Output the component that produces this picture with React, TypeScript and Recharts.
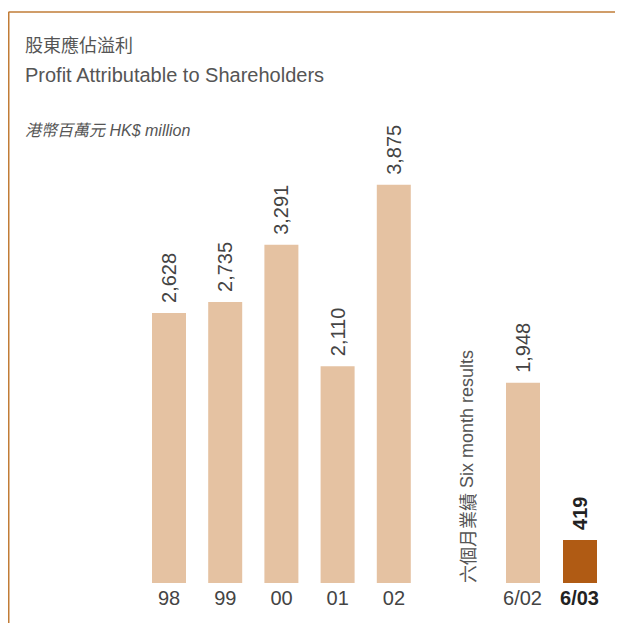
import { BarChart, Bar, XAxis, YAxis, Cell, LabelList } from "recharts";

const annualYears = ["98", "99", "00", "01", "02"];
const annualProfit = [2628, 2735, 3291, 2110, 3875];
const halfYearPeriods = ["6/02", "6/03"];
const halfYearProfit = [1948, 419];

const annualData = annualYears.map((label, i) => ({ label, value: annualProfit[i] }));
const halfYearData = halfYearPeriods.map((label, i) => ({ label, value: halfYearProfit[i] }));

const FONT = '"Liberation Sans", Arial, Helvetica, sans-serif';
const LIGHT = "#e5c2a2";
const DARK = "#b05b14";
const TEXT = "#444";

function ValueLabel(props: any) {
  const { x, y, width, value, index, highlight } = props;
  const bold = highlight && index === 1;
  const cx = x + width / 2;
  const ty = y - 10;
  return (
    <text
      x={cx}
      y={ty}
      transform={`rotate(-90 ${cx} ${ty})`}
      textAnchor="start"
      dominantBaseline="central"
      fontFamily={FONT}
      fontSize={20}
      fontWeight={bold ? 700 : 400}
      fill={bold ? "#222" : TEXT}
    >
      {Number(value).toLocaleString("en-US")}
    </text>
  );
}

function Tick(props: any) {
  const { x, y, payload, highlight } = props;
  const bold = highlight && payload.value === "6/03";
  return (
    <text
      x={x}
      y={y}
      dy="0.71em"
      textAnchor="middle"
      fontFamily={FONT}
      fontSize={20}
      fontWeight={bold ? 700 : 400}
      fill={bold ? "#222" : TEXT}
    >
      {payload.value}
    </text>
  );
}

function Chart({ data, width, highlight }: { data: { label: string; value: number }[]; width: number; highlight: boolean }) {
  return (
    <BarChart width={width} height={520} data={data} margin={{ top: 72, right: 0, bottom: 0, left: 0 }}>
      <XAxis
        dataKey="label"
        height={37}
        axisLine={false}
        tickLine={false}
        interval={0}
        tick={<Tick highlight={highlight} />}
      />
      <YAxis hide domain={[0, 4000]} />
      <Bar dataKey="value" barSize={34} isAnimationActive={false}>
        {data.map((d, i) => (
          <Cell key={d.label} fill={highlight && i === 1 ? DARK : LIGHT} />
        ))}
        <LabelList dataKey="value" content={<ValueLabel highlight={highlight} />} />
      </Bar>
    </BarChart>
  );
}

export default function App() {
  return (
    <div style={{ position: "relative", width: 615, height: 615, fontFamily: FONT }}>
      <svg width={615} height={615} style={{ position: "absolute", left: 0, top: 0 }}>
        <line x1={0.5} y1={4} x2={615} y2={4} stroke="#c17c37" strokeWidth={1.5} />
        <line x1={0.75} y1={4} x2={0.75} y2={615} stroke="#c17c37" strokeWidth={1.5} />
        <text x={17} y={44} fontFamily='"Noto Sans CJK TC", sans-serif' fontSize={18} fill="#555">
          股東應佔溢利
        </text>
        <text x={17} y={74} fontFamily={FONT} fontSize={20} fill="#555">
          Profit Attributable to Shareholders
        </text>
        <text x={17} y={128} fontFamily={FONT} fontSize={16} fontStyle="italic" fill="#555">
          <tspan fontFamily='"Noto Sans CJK TC", sans-serif'>港幣百萬元</tspan> HK$ million
        </text>
        <text
          x={459}
          y={575}
          transform="rotate(-90 459 575)"
          dominantBaseline="central"
          fontFamily={FONT}
          fontSize={18}
          fill="#555"
        >
          <tspan fontFamily='"Noto Sans CJK TC", sans-serif'>六個月業績</tspan> Six month results
        </text>
      </svg>
      <div style={{ position: "absolute", left: 133, top: 92 }}>
        <Chart data={annualData} width={281} highlight={false} />
      </div>
      <div style={{ position: "absolute", left: 486, top: 92 }}>
        <Chart data={halfYearData} width={114} highlight={true} />
      </div>
    </div>
  );
}
